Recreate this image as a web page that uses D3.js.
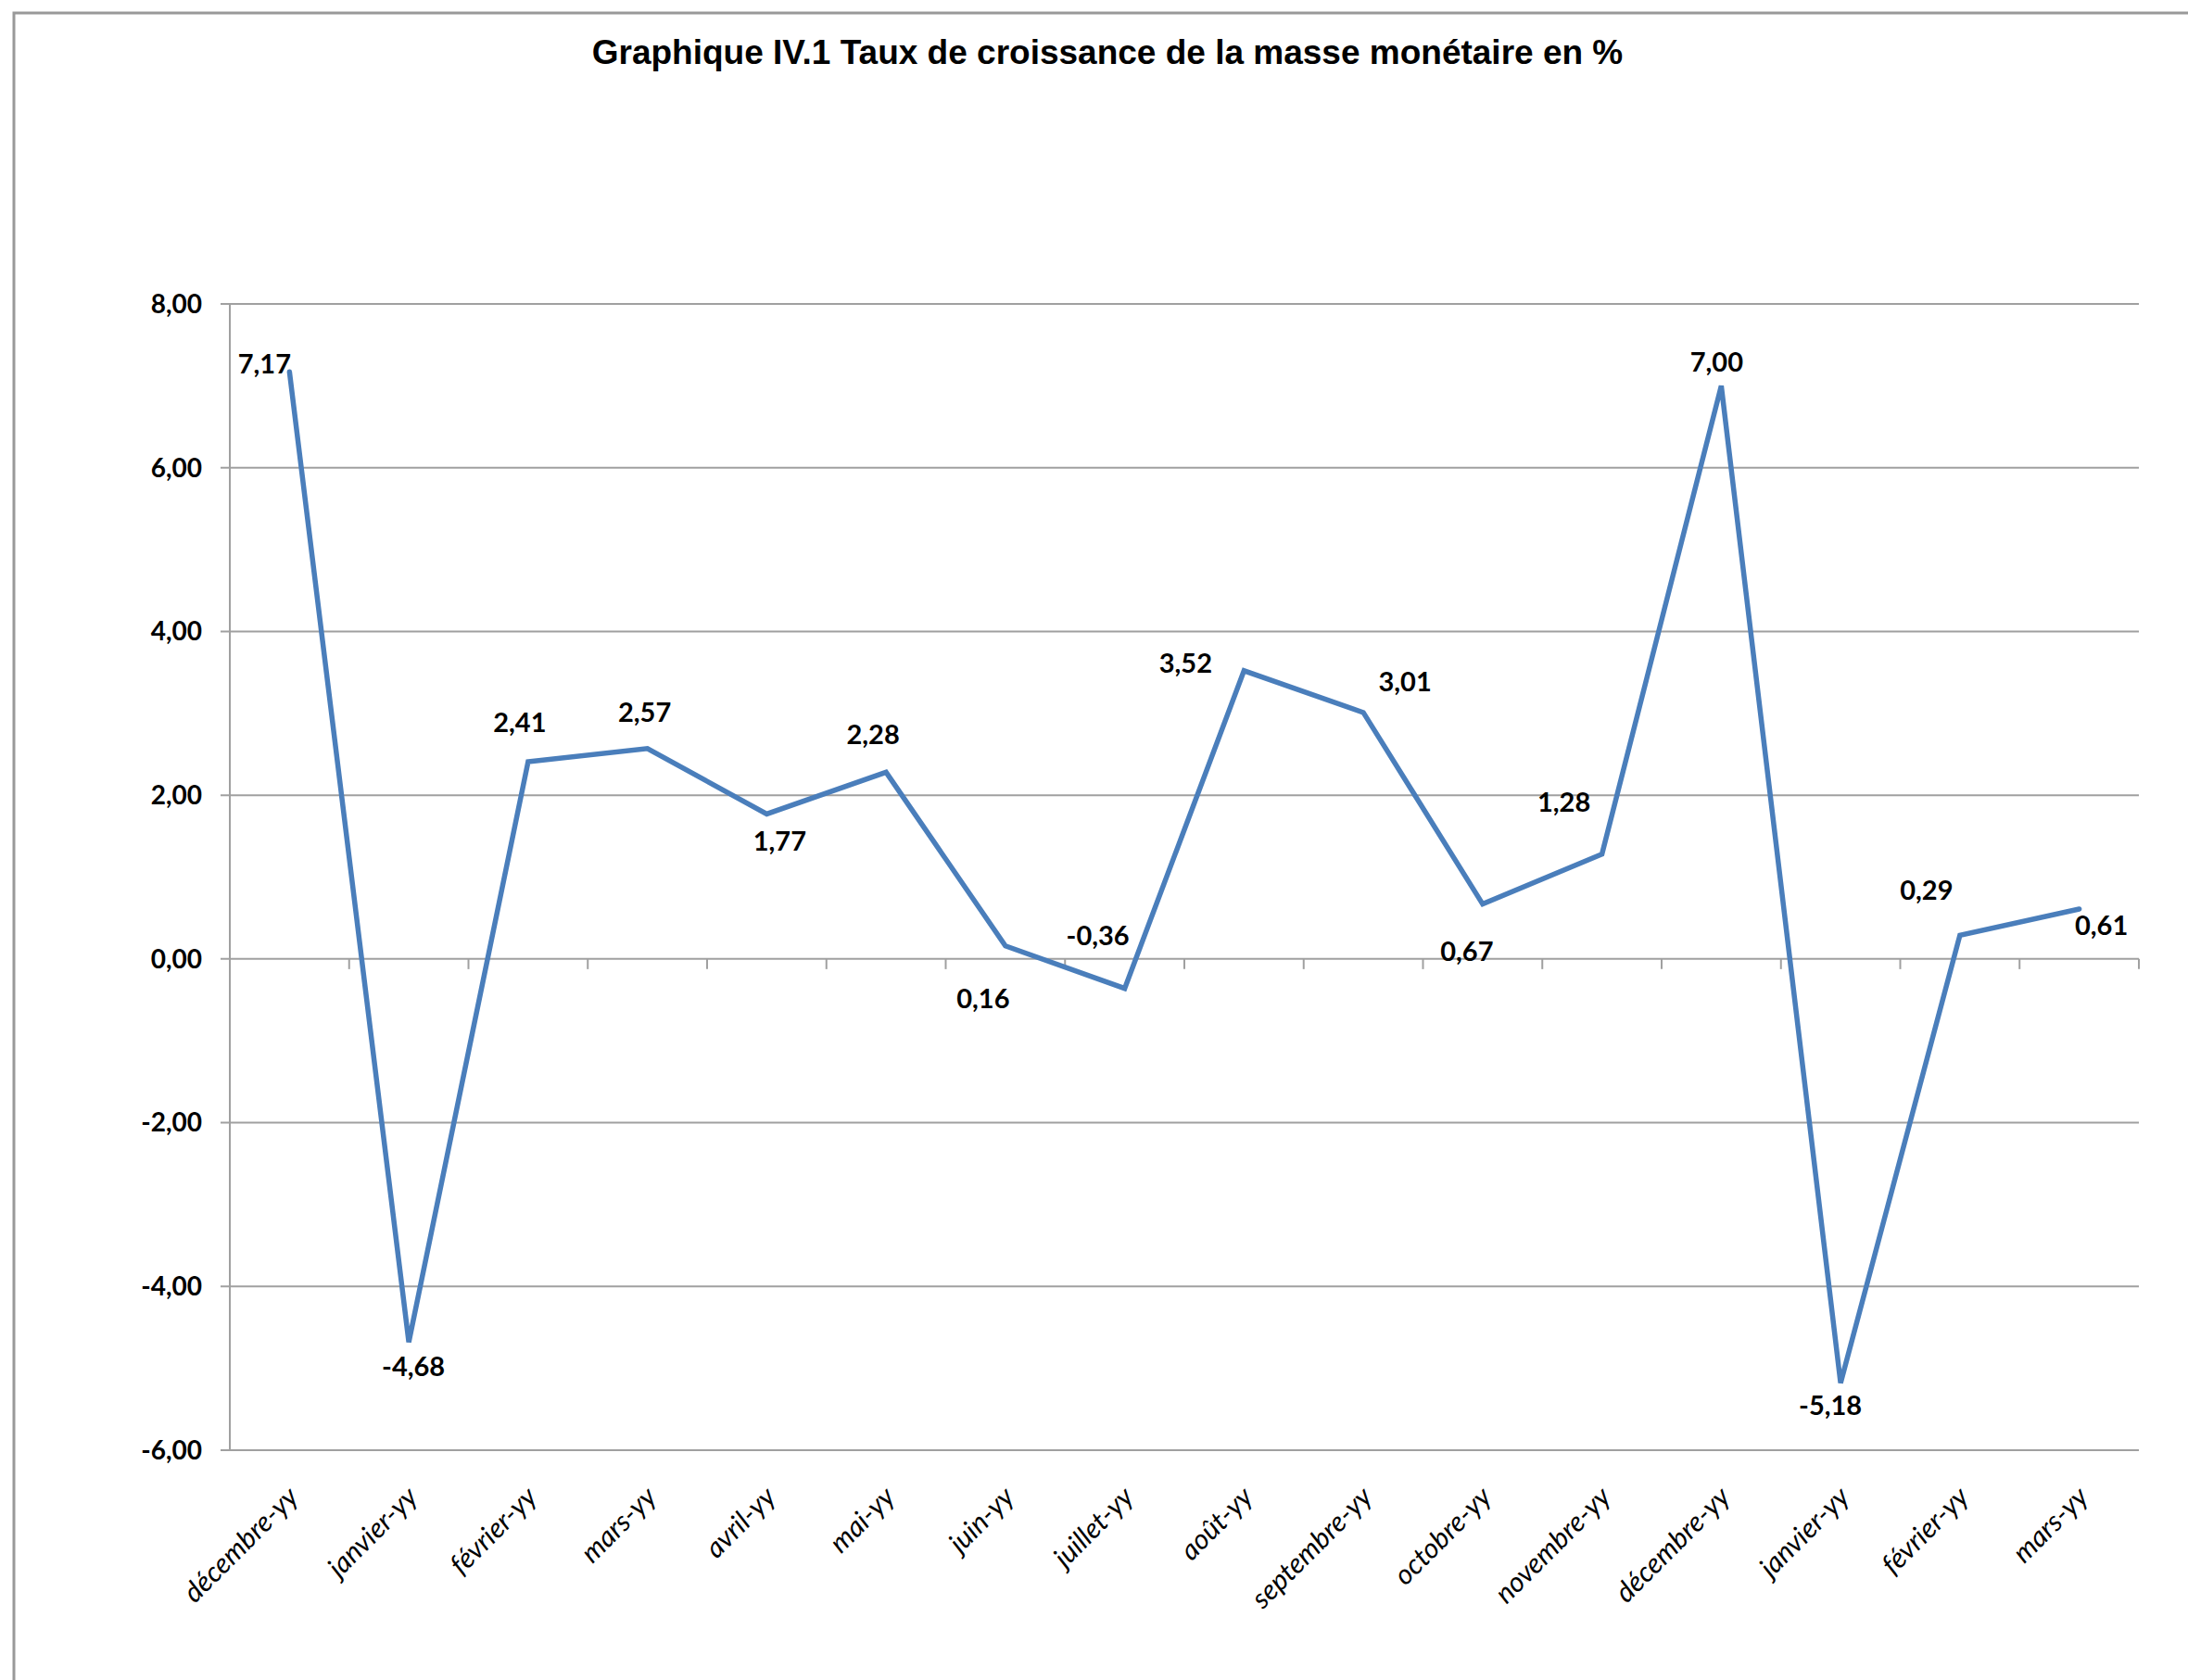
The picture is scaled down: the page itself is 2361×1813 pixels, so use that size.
<!DOCTYPE html>
<html>
<head>
<meta charset="utf-8">
<script src="https://cdn.jsdelivr.net/npm/d3@7"></script>
<style>
  body { margin: 0; background: #fff; }
  svg { display: block; }
</style>
</head>
<body>
<div id="chart"></div>
<script>
// Données du graphique
const categories = ["décembre-yy", "janvier-yy", "février-yy", "mars-yy", "avril-yy", "mai-yy",
    "juin-yy", "juillet-yy", "août-yy", "septembre-yy", "octobre-yy", "novembre-yy",
    "décembre-yy", "janvier-yy", "février-yy", "mars-yy"];
const values = [7.17, -4.68, 2.41, 2.57, 1.77, 2.28, 0.16, -0.36, 3.52, 3.01, 0.67, 1.28, 7.00, -5.18, 0.29, 0.61];
const yTicks = [-6, -4, -2, 0, 2, 4, 6, 8];

// Décalage des étiquettes de données (px, centre du texte par rapport au point)
const labelOffsets = [[-27, -8], [5, 26], [-9, -42], [-3, -39], [14, 29], [-14, -41], [-24, 57], [-29, -57],
    [-63, -8], [45, -33], [-17, 51], [-41, -56], [-5, -26], [-11, 24], [-36, -48], [24, 18]];

// Format français avec trait d'union pour le signe moins
const fr = d3.formatLocale({ decimal: ",", thousands: " ", grouping: [3], currency: ["", " €"], minus: "-" });
const fmt = fr.format(".2f");

// Dimensions
const width = 2361;
const height = 1813;
const margin = { left: 248, right: 53, top: 328, bottom: 248 };

const svg = d3.select("#chart")
    .append("svg")
    .attr("width", width)
    .attr("height", height);

// Cadre extérieur
svg.append("rect")
    .attr("x", 15)
    .attr("y", 14)
    .attr("width", width + 20)
    .attr("height", height + 20)
    .attr("fill", "none")
    .attr("stroke", "#999")
    .attr("stroke-width", 3);

// Titre
svg.append("text")
    .attr("x", 1195)
    .attr("y", 69)
    .attr("text-anchor", "middle")
    .style("font-family", "Liberation Sans, Arial, sans-serif")
    .style("font-weight", "bold")
    .style("font-size", "37px")
    .text("Graphique IV.1 Taux de croissance de la masse monétaire en %");

// Échelles
const x = d3.scaleBand()
    .domain(d3.range(categories.length))
    .range([margin.left, width - margin.right]);

const y = d3.scaleLinear()
    .domain([-6, 8])
    .range([height - margin.bottom, margin.top]);

// Grille horizontale
svg.append("g")
    .selectAll("line")
    .data(yTicks)
    .enter()
    .append("line")
    .attr("x1", margin.left - 10)
    .attr("x2", width - margin.right)
    .attr("y1", d => y(d))
    .attr("y2", d => y(d))
    .attr("stroke", "#a0a0a0")
    .attr("stroke-width", 2);

// Axe vertical
svg.append("line")
    .attr("x1", margin.left)
    .attr("x2", margin.left)
    .attr("y1", y(8))
    .attr("y2", y(-6))
    .attr("stroke", "#a0a0a0")
    .attr("stroke-width", 2);

// Étiquettes de l'axe Y
svg.append("g")
    .selectAll("text")
    .data(yTicks)
    .enter()
    .append("text")
    .attr("x", margin.left - 30)
    .attr("y", d => y(d))
    .attr("dy", "0.35em")
    .attr("text-anchor", "end")
    .style("font-family", "Lato, sans-serif")
    .style("font-weight", "bold")
    .style("font-size", "28px")
    .text(d => fmt(d));

// Graduations entre les catégories, sur la ligne du zéro
const tickPos = d3.range(categories.length + 1).map(i => margin.left + i * x.step());
svg.append("g")
    .selectAll("line")
    .data(tickPos)
    .enter()
    .append("line")
    .attr("x1", d => d)
    .attr("x2", d => d)
    .attr("y1", y(0))
    .attr("y2", y(0) + 11)
    .attr("stroke", "#a0a0a0")
    .attr("stroke-width", 2);

// Étiquettes de l'axe X (inclinées)
svg.append("g")
    .selectAll("text")
    .data(categories)
    .enter()
    .append("text")
    .attr("transform", (d, i) => `translate(${x(i) + x.bandwidth() / 2 + 4},${y(-6) + 45}) rotate(-45)`)
    .attr("text-anchor", "end")
    .attr("dy", "0.35em")
    .style("font-family", "Lato, sans-serif")
    .style("font-style", "italic")
    .style("font-size", "30px")
    .text(d => d);

// Ligne de la série
const line = d3.line()
    .x((d, i) => x(i) + x.bandwidth() / 2)
    .y(d => y(d));

svg.append("path")
    .datum(values)
    .attr("d", line)
    .attr("fill", "none")
    .attr("stroke", "#4a7ebb")
    .attr("stroke-width", 5.5)
    .attr("stroke-linejoin", "miter")
    .attr("stroke-linecap", "round");

// Étiquettes de données
svg.append("g")
    .selectAll("text")
    .data(values)
    .enter()
    .append("text")
    .attr("x", (d, i) => x(i) + x.bandwidth() / 2 + labelOffsets[i][0])
    .attr("y", (d, i) => y(d) + labelOffsets[i][1])
    .attr("dy", "0.35em")
    .attr("text-anchor", "middle")
    .style("font-family", "Lato, sans-serif")
    .style("font-weight", "bold")
    .style("font-size", "29px")
    .text(d => fmt(d));
</script>
</body>
</html>
